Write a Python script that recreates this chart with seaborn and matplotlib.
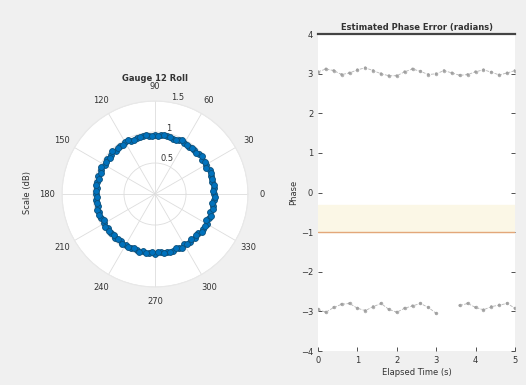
import numpy as np
import pandas as pd
import matplotlib
matplotlib.use("Agg")
import matplotlib.pyplot as plt
import seaborn as sns

# Polar gauge samples: angle (deg) and radial magnitude
gauge_angle_deg = [0, 6, 12, 18, 24, 30, 36, 42, 48, 54, 60, 66, 72, 78, 84,
                   90, 96, 102, 108, 114, 120, 126, 132, 138, 144, 150, 156,
                   162, 168, 174, 180, 186, 192, 198, 204, 210, 216, 222, 228,
                   234, 240, 246, 252, 258, 264, 270, 276, 282, 288, 294, 300,
                   306, 312, 318, 324, 330, 336, 342, 348, 354,
                   3, 9, 15, 21, 27, 33, 39, 45, 51, 57, 63, 69, 75, 81, 87,
                   93, 99, 105, 111, 117, 123, 129, 135, 141, 147, 153, 159,
                   165, 171, 177, 183, 189, 195, 201, 207, 213, 219, 225, 231,
                   237, 243, 249, 255, 261, 267, 273, 279, 285, 291, 297, 303,
                   309, 315, 321, 327, 333, 339, 345, 351, 357]
gauge_radius = [0.95, 0.96, 0.94, 0.95, 0.97, 0.95, 0.94, 0.96, 0.95, 0.93,
                0.95, 0.96, 0.94, 0.95, 0.96, 0.95, 0.94, 0.96, 0.95, 0.94,
                0.96, 0.95, 0.94, 0.95, 0.96, 0.94, 0.95, 0.96, 0.95, 0.94,
                0.95, 0.96, 0.94, 0.95, 0.96, 0.95, 0.94, 0.95, 0.96, 0.94,
                0.95, 0.96, 0.95, 0.94, 0.95, 0.96, 0.94, 0.95, 0.96, 0.95,
                0.94, 0.95, 0.96, 0.94, 0.95, 0.96, 0.95, 0.94, 0.96, 0.95,
                0.93, 0.97, 0.95, 0.96, 0.93, 0.96, 0.97, 0.93, 0.96, 0.95,
                0.97, 0.93, 0.96, 0.97, 0.94, 0.93, 0.97, 0.95, 0.93, 0.97,
                0.94, 0.96, 0.97, 0.93, 0.95, 0.97, 0.93, 0.94, 0.97, 0.96,
                0.93, 0.94, 0.97, 0.96, 0.93, 0.97, 0.96, 0.93, 0.94, 0.97,
                0.96, 0.93, 0.97, 0.96, 0.93, 0.94, 0.97, 0.96, 0.93, 0.97,
                0.96, 0.93, 0.94, 0.97, 0.96, 0.93, 0.97, 0.96, 0.93, 0.97]

# Phase error time series
time_s = [0.0, 0.2, 0.4, 0.6, 0.8, 1.0, 1.2, 1.4, 1.6, 1.8, 2.0, 2.2, 2.4,
          2.6, 2.8, 3.0, 3.2, 3.4, 3.6, 3.8, 4.0, 4.2, 4.4, 4.6, 4.8, 5.0]
phase_upper = [3.05, 3.12, 3.08, 2.98, 3.02, 3.10, 3.15, 3.08, 3.00, 2.95,
               2.95, 3.05, 3.12, 3.06, 2.98, 3.00, 3.08, 3.02, 2.96, 2.98,
               3.05, 3.10, 3.04, 2.97, 3.02, 3.08]
phase_lower = [-2.95, -3.02, -2.90, -2.82, -2.80, -2.92, -2.98, -2.88, -2.80,
               -2.95, -3.02, -2.92, -2.86, -2.80, -2.90, -3.05, np.nan, np.nan,
               -2.85, -2.80, -2.90, -2.96, -2.88, -2.84, -2.80, -2.92]
threshold = -1.0
y_ticks = [-4, -3, -2, -1, 0, 1, 2, 3, 4]
x_ticks = [0, 1, 2, 3, 4, 5]
theta_ticks = [0, 30, 60, 90, 120, 150, 180, 210, 240, 270, 300, 330]
r_ticks = [0.5, 1.0, 1.5]

sns.set_style("white")
plt.rcParams["font.family"] = ["DejaVu Sans"]

fig = plt.figure(figsize=(5.26, 3.85), dpi=100)
fig.patch.set_facecolor("#f0f0f0")

text_col = "#333333"
fs = 6

# ---- left: polar scatter ----
axp = fig.add_axes([0.1179, 0.2545, 0.3536, 0.4831], projection="polar")
axp.set_facecolor("white")
gdf = pd.DataFrame({"theta": np.deg2rad(gauge_angle_deg), "r": gauge_radius})
sns.scatterplot(data=gdf, x="theta", y="r", ax=axp, s=18, marker="o",
                color="#0072BD", edgecolor="#0b4f7a", linewidth=0.6, zorder=3)
axp.set_theta_zero_location("E")
axp.set_rlim(0, 1.5)
axp.set_rticks(r_ticks)
axp.set_yticklabels(["0.5", "1", "1.5"], fontsize=fs, color=text_col)
axp.set_rlabel_position(80)
axp.set_thetagrids(theta_ticks, [str(t) for t in theta_ticks],
                   fontsize=fs, color=text_col)
axp.tick_params(axis="x", pad=0)
axp.grid(True, color="#dddddd", linewidth=0.6)
axp.spines["polar"].set_color("#e8e8e8")
axp.set_xlabel("")
axp.set_ylabel("")
axp.set_title("Gauge 12 Roll", fontsize=fs, color=text_col, pad=0, y=1.11,
              fontweight="bold")
fig.text(0.052, 0.50, "Scale (dB)", rotation=90, ha="center", va="center",
         fontsize=fs, color=text_col)

# ---- right: phase error vs time ----
axr = fig.add_axes([0.6046, 0.0883, 0.3745, 0.823])
axr.set_facecolor("white")
axr.axhspan(threshold, -0.32, color="#fbf7e6", zorder=0)
axr.axhline(threshold, color="#e3a77a", linewidth=1.0, zorder=1)
pdf = pd.DataFrame({"t": time_s, "up": phase_upper, "low": phase_lower})
for col in ["up", "low"]:
    axr.plot(pdf["t"], pdf[col], linestyle="--", color="#b5b5b5",
             linewidth=0.6, marker=".", markersize=3, zorder=2)
sns.scatterplot(data=pdf, x="t", y="up", ax=axr, s=4, color="#a0a0a0",
                edgecolor="none", zorder=3)
sns.scatterplot(data=pdf, x="t", y="low", ax=axr, s=4, color="#a0a0a0",
                edgecolor="none", zorder=3)
axr.set_xlim(0, 5)
axr.set_ylim(-4, 4)
axr.set_xticks(x_ticks)
axr.set_yticks(y_ticks)
axr.tick_params(labelsize=fs, colors=text_col, direction="in", length=3,
                width=0.6, right=True, left=True, bottom=True)
for side in ["left", "right", "bottom"]:
    axr.spines[side].set_visible(False)
axr.spines["top"].set_color("#444444")
axr.spines["top"].set_linewidth(1.6)
axr.set_xlabel("Elapsed Time (s)", fontsize=fs, color=text_col, labelpad=2)
axr.set_ylabel("Phase", fontsize=fs, color=text_col, labelpad=2)
axr.set_title("Estimated Phase Error (radians)", fontsize=fs, color=text_col,
              pad=3, fontweight="bold")

fig.savefig("out.png", dpi=100, facecolor=fig.get_facecolor())
